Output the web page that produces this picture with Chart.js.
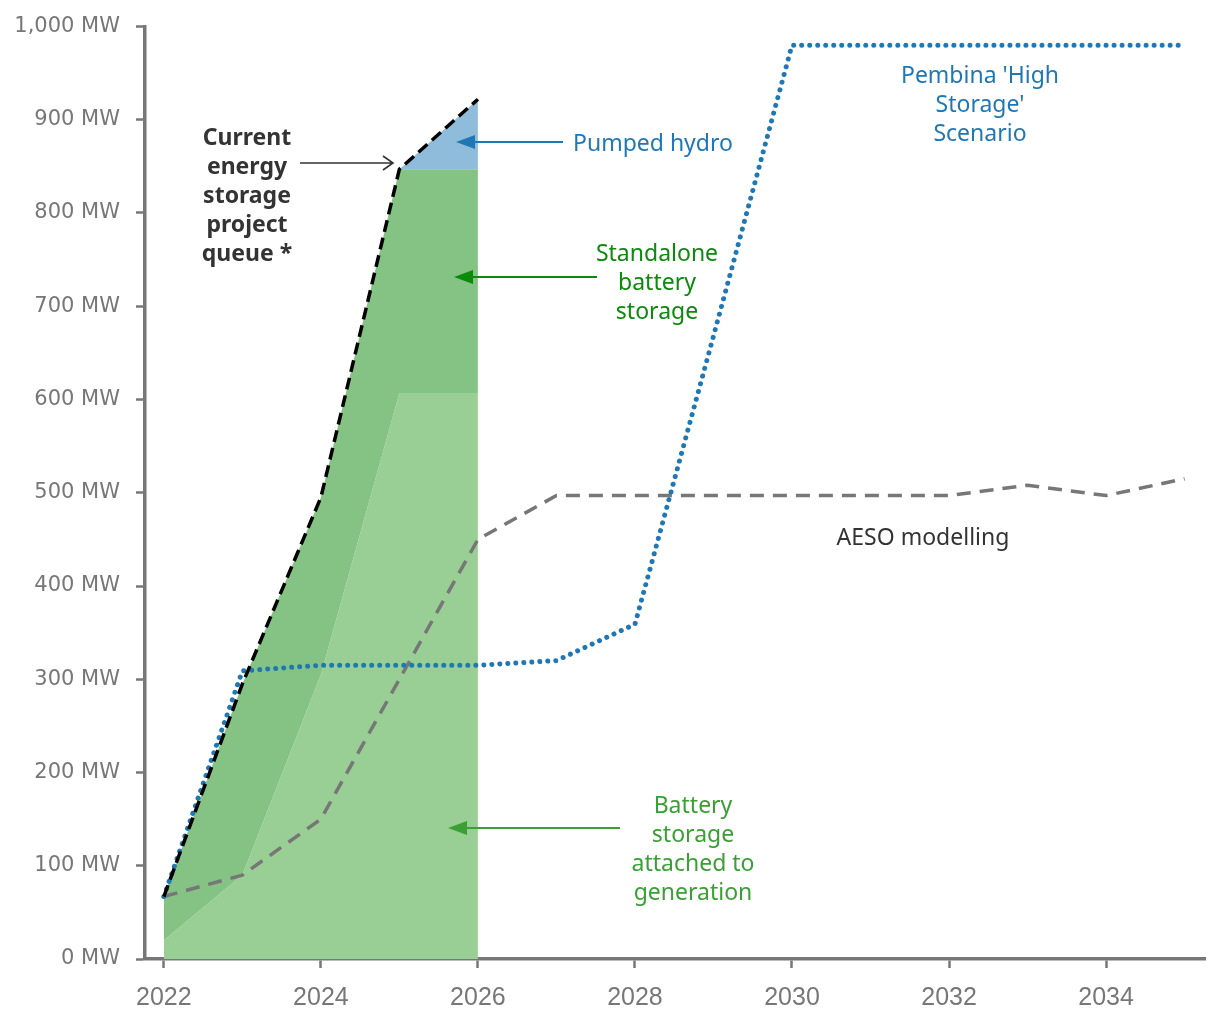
<!DOCTYPE html>
<html>
<head>
<meta charset="utf-8">
<script src="https://cdn.jsdelivr.net/npm/chart.js@4"></script>
<style>
  body { margin: 0; background: #fff; }
  #chart { display: block; }
</style>
</head>
<body>
<canvas id="chart" width="1220" height="1020"></canvas>
<script>
// Storage build-out: project queue vs. two outlook scenarios

// queue years (stacked areas + black dashed line)
const queueYears = [2022, 2023, 2024, 2025, 2026];
const attachedBattery = [20, 90, 305, 607, 607];     // battery attached to generation
const standaloneBattery = [47, 205, 190, 240, 240];  // standalone battery storage
const pumpedHydro = [0, 0, 0, 0, 75];                // pumped hydro
const queueTotal = [67, 295, 495, 847, 922];         // current project queue

// scenario years
const scenarioYears = [2022, 2023, 2024, 2025, 2026, 2027, 2028, 2029, 2030, 2031, 2032, 2033, 2034, 2035];
const pembinaHigh = [67, 309, 315, 315, 315, 320, 359, 668, 980, 980, 980, 980, 980, 980];
const aesoModel = [67, 90, 150, 300, 450, 497, 497, 497, 497, 497, 497, 508, 497, 515];

// axis ticks
const xTickYears = [2022, 2024, 2026, 2028, 2030, 2032, 2034];
const yTickValues = [0, 100, 200, 300, 400, 500, 600, 700, 800, 900, 1000];

const axisGrey = '#777777';
const blue = '#1f77b4';

function points(xs, ys) {
    return xs.map((x, i) => ({x: x, y: ys[i]}));
}

// running totals for the stacked areas
const attachedTop = attachedBattery.slice();
const standaloneTop = attachedBattery.map((v, i) => v + standaloneBattery[i]);
const hydroTop = standaloneTop.map((v, i) => v + pumpedHydro[i]);

// text labels and arrows drawn over the plot
const annotations = {
    id: 'annotations',
    afterDatasetsDraw(chart) {
        const ctx = chart.ctx;
        ctx.save();
        ctx.textAlign = 'center';
        ctx.textBaseline = 'middle';

        function lines(textLines, x, y0, step, color, font) {
            ctx.fillStyle = color;
            ctx.font = font;
            textLines.forEach((t, i) => ctx.fillText(t, x, y0 + i * step));
        }

        function solidArrow(x1, x2, y, color) {   // line from x1 to arrow head at x2
            ctx.strokeStyle = color;
            ctx.fillStyle = color;
            ctx.lineWidth = 1.8;
            ctx.beginPath();
            ctx.moveTo(x1, y);
            ctx.lineTo(x2 + 14, y);
            ctx.stroke();
            ctx.beginPath();
            ctx.moveTo(x2, y);
            ctx.lineTo(x2 + 19, y - 7);
            ctx.lineTo(x2 + 19, y + 7);
            ctx.closePath();
            ctx.fill();
        }

        const reg = '23px "Noto Sans", sans-serif';
        const bold = 'bold 23px "Noto Sans", sans-serif';

        // current queue label + open arrow
        lines(['Current', 'energy', 'storage', 'project', 'queue *'], 247, 138, 29, '#333333', bold);
        ctx.strokeStyle = '#333333';
        ctx.lineWidth = 1.6;
        ctx.beginPath();
        ctx.moveTo(300, 163);
        ctx.lineTo(393, 163);
        ctx.moveTo(383, 156);
        ctx.lineTo(393, 163);
        ctx.lineTo(383, 170);
        ctx.stroke();

        ctx.textAlign = 'left';
        lines(['Pumped hydro'], 573, 144, 29, blue, reg);
        ctx.textAlign = 'center';
        solidArrow(563, 456, 142, blue);

        lines(['Standalone', 'battery', 'storage'], 657, 254, 29, '#0b8a0b', reg);
        solidArrow(597, 454, 277, '#0b8a0b');

        lines(['Battery', 'storage', 'attached to', 'generation'], 693, 806, 29, '#3aa035', reg);
        solidArrow(620, 448, 828, '#3aa035');

        lines(['AESO modelling'], 923, 538, 29, '#333333', reg);
        lines(["Pembina 'High", "Storage'", 'Scenario'], 980, 76, 29, blue, reg);

        ctx.restore();
    }
};

const ctx = document.getElementById('chart');
const myChart = new Chart(ctx, {
    type: 'line',
    data: {
        datasets: [
            {
                label: 'Battery storage attached to generation',
                data: points(queueYears, attachedTop),
                backgroundColor: '#99cf94',
                borderWidth: 0,
                fill: 'origin',
                order: 5
            },
            {
                label: 'Standalone battery storage',
                data: points(queueYears, standaloneTop),
                backgroundColor: '#84c384',
                borderWidth: 0,
                fill: '-1',
                order: 4
            },
            {
                label: 'Pumped hydro',
                data: points(queueYears, hydroTop),
                backgroundColor: '#8fbcdb',
                borderWidth: 0,
                fill: '-1',
                order: 3
            },
            {
                label: 'AESO modelling',
                data: points(scenarioYears, aesoModel),
                borderColor: axisGrey,
                borderWidth: 3.5,
                borderDash: [14, 9],
                fill: false,
                order: 2
            },
            {
                label: "Pembina 'High Storage' Scenario",
                data: points(scenarioYears, pembinaHigh),
                borderColor: blue,
                borderWidth: 5,
                borderCapStyle: 'round',
                borderDash: [0.01, 8],
                fill: false,
                order: 1
            },
            {
                label: 'Current energy storage project queue',
                data: points(queueYears, queueTotal),
                borderColor: '#000000',
                borderWidth: 3.5,
                borderDash: [12, 6],
                fill: false,
                order: 0
            }
        ]
    },
    options: {
        responsive: false,
        animation: false,
        layout: {
            padding: {top: 18, right: 15, left: 0, bottom: 0}
        },
        elements: {
            point: {radius: 0},
            line: {tension: 0}
        },
        scales: {
            x: {
                type: 'linear',
                min: 2021.76,
                max: 2035.26,
                afterBuildTicks: scale => { scale.ticks = xTickYears.map(v => ({value: v})); },
                afterFit: scale => { scale.height = 61; },
                grid: {
                    drawOnChartArea: false,
                    drawTicks: true,
                    tickLength: 9,
                    tickWidth: 2.5,
                    color: axisGrey
                },
                border: {color: axisGrey, width: 3.5},
                ticks: {
                    color: axisGrey,
                    padding: 15,
                    maxRotation: 0,
                    font: {family: "'Liberation Sans'", size: 25},
                    callback: v => String(v)
                }
            },
            y: {
                min: 0,
                max: 1000,
                afterBuildTicks: scale => { scale.ticks = yTickValues.map(v => ({value: v})); },
                afterFit: scale => { scale.width = 145; },
                grid: {
                    drawOnChartArea: false,
                    drawTicks: true,
                    tickLength: 9,
                    tickWidth: 2.5,
                    color: axisGrey
                },
                border: {color: axisGrey, width: 3.5},
                ticks: {
                    color: axisGrey,
                    padding: 16,
                    font: {family: "'DejaVu Sans'", size: 21, lineHeight: 1},
                    callback: v => v.toLocaleString('en-US') + ' MW'
                }
            }
        },
        plugins: {
            legend: {display: false},
            tooltip: {enabled: false}
        }
    },
    plugins: [annotations]
});
</script>
</body>
</html>
